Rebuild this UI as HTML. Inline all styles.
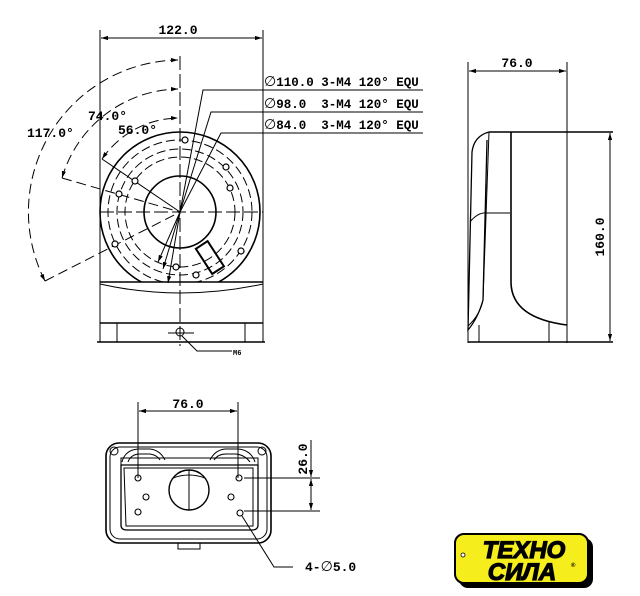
<!DOCTYPE html>
<html><head><meta charset="utf-8"><style>
html,body{margin:0;padding:0;background:#fff;width:640px;height:596px;overflow:hidden}
svg{display:block}
text{font-family:"Liberation Mono",monospace;font-weight:bold;fill:#000}
.d{font-family:"DejaVu Sans",sans-serif;font-size:14px;font-weight:normal}
</style></head><body>
<svg width="640" height="596" viewBox="0 0 640 596" xmlns="http://www.w3.org/2000/svg">
<defs>
<marker id="a" viewBox="0 0 10 10" refX="10" refY="5" markerWidth="7" markerHeight="7" orient="auto-start-reverse"><path d="M0,2 L10,5 L0,8 z" fill="#000"/></marker>
<clipPath id="c"><rect x="0" y="0" width="640" height="282"/></clipPath>
</defs>
<g stroke="#000" fill="none" stroke-width="1">
<!-- FRONT VIEW -->
<line x1="100" y1="30" x2="100" y2="342"/>
<line x1="263" y1="30" x2="263" y2="342"/>
<line x1="101" y1="38" x2="262" y2="38" marker-start="url(#a)" marker-end="url(#a)"/>
<g clip-path="url(#c)">
<circle cx="180" cy="212" r="80" stroke-width="1.6"/>
<circle cx="180" cy="212" r="72" stroke-dasharray="9,4"/>
</g>
<circle cx="180" cy="212" r="63" stroke-dasharray="9,4"/>
<circle cx="180" cy="212" r="55" stroke-dasharray="9,4"/>
<circle cx="180" cy="212" r="36" stroke-width="1.6" fill="#fff"/>
<line x1="180" y1="56" x2="180" y2="346" stroke-dasharray="14,4"/>
<line x1="100" y1="212" x2="263" y2="212" stroke-dasharray="14,4"/>
<path d="M45,281 A152,152 0 0 1 178,60" stroke-dasharray="10,5" marker-start="url(#a)" marker-end="url(#a)"/>
<path d="M62,178 A123,123 0 0 1 178,89" stroke-dasharray="10,5" marker-start="url(#a)" marker-end="url(#a)"/>
<path d="M102,159 A94,94 0 0 1 178,118" stroke-dasharray="10,5" marker-start="url(#a)" marker-end="url(#a)"/>
<line x1="45" y1="281" x2="180" y2="212" stroke-dasharray="10,5"/>
<line x1="62" y1="178" x2="180" y2="212" stroke-dasharray="10,5"/>
<line x1="102" y1="159" x2="180" y2="212"/>
<line x1="180" y1="212" x2="158" y2="262" marker-end="url(#a)"/>
<line x1="180" y1="212" x2="163" y2="269" marker-end="url(#a)"/>
<line x1="180" y1="212" x2="168" y2="283" marker-end="url(#a)"/>
<polyline points="180,212 203,90 423,90"/>
<polyline points="180,212 211,112 423,112"/>
<polyline points="180,212 221,133 423,133"/>
<g stroke-width="1.2" fill="#fff">
<circle cx="185" cy="140" r="3"/><circle cx="226" cy="167" r="3"/><circle cx="230" cy="188" r="3"/>
<circle cx="135" cy="181" r="3"/><circle cx="119" cy="194" r="3"/><circle cx="115" cy="244" r="3"/>
<circle cx="176" cy="267" r="3"/><circle cx="196" cy="275" r="3"/><circle cx="241" cy="251" r="3"/>
</g>
<g transform="translate(205,250) rotate(-33)"><rect x="-7" y="-6" width="14" height="30" stroke-width="2"/></g>
<line x1="100" y1="282" x2="263" y2="282" stroke-width="1.6"/>
<path d="M100,284 Q180,302 263,284"/>
<line x1="100" y1="323" x2="263" y2="323" stroke-width="1.6"/>
<line x1="97" y1="342" x2="265" y2="342" stroke-width="1.4"/>
<line x1="117" y1="323" x2="117" y2="342"/><line x1="245" y1="323" x2="245" y2="342"/>
<circle cx="180" cy="332" r="4"/>
<line x1="168" y1="333" x2="194" y2="333"/>
<polyline points="182,336 197,351 232,351"/>
<!-- SIDE VIEW -->
<line x1="468" y1="62" x2="468" y2="343"/>
<line x1="567" y1="62" x2="567" y2="343"/>
<line x1="469" y1="71" x2="566" y2="71" marker-start="url(#a)" marker-end="url(#a)"/>
<line x1="489" y1="132" x2="613" y2="132" stroke-width="1.4"/>
<line x1="468" y1="342" x2="613" y2="342" stroke-width="1.4"/>
<line x1="610" y1="133" x2="610" y2="341" marker-start="url(#a)" marker-end="url(#a)"/>
<path d="M489,132 Q474,136 472,152 L468,330 Q478,318 483,300 L487,140" stroke-width="1.3"/>
<path d="M489,132 L483,300 Q480,315 468,326"/>
<line x1="511" y1="132" x2="511" y2="283" stroke-width="1.6"/>
<path d="M511,283 Q512,318 567,325" stroke-width="1.6"/>
<path d="M470,222 Q478,212 487,213 L510,213"/>
<line x1="479" y1="325" x2="479" y2="342"/><line x1="549" y1="322" x2="549" y2="342"/>
<!-- BOTTOM VIEW -->
<line x1="138" y1="402" x2="138" y2="478"/><line x1="238" y1="402" x2="238" y2="478"/>
<line x1="139" y1="411" x2="237" y2="411" marker-start="url(#a)" marker-end="url(#a)"/>
<rect x="106" y="443" width="165" height="100" rx="13" stroke-width="1.6"/>
<rect x="110" y="447" width="157" height="92" rx="10"/>
<path d="M121,465 L121,525 Q121,530 127,530 L252,530 Q258,530 258,525 L258,465 Z" stroke-width="1.3"/>
<path d="M124,468 L253,468 L253,526 L126,526 Z"/>
<path d="M121,465 L121,458 L258,458 L258,465"/>
<path d="M122,462 Q125,450 138,449 L150,449 Q160,450 165,460"/>
<path d="M128,462 Q131,454 140,454 L150,454 Q157,455 160,460"/>
<path d="M210,460 Q215,450 225,449 L238,449 Q251,450 255,462"/>
<path d="M214,460 Q218,454 226,454 L236,454 Q245,455 250,462"/>
<circle cx="114" cy="451" r="4"/><circle cx="262" cy="451" r="4"/>
<rect x="178" y="543" width="22" height="6"/>
<circle cx="189" cy="490" r="20" stroke-width="1.4"/>
<line x1="189" y1="470" x2="189" y2="510"/><path d="M173,478 Q189,472 205,478"/>
<g stroke-width="1.1"><circle cx="138" cy="478" r="3"/><circle cx="146" cy="497" r="3"/><circle cx="138" cy="512" r="3"/>
<circle cx="239" cy="478" r="3"/><circle cx="231" cy="497" r="3"/><circle cx="240" cy="513" r="3"/></g>
<line x1="244" y1="478" x2="320" y2="478"/><line x1="244" y1="511" x2="320" y2="511"/>
<line x1="311" y1="440" x2="311" y2="477" marker-end="url(#a)"/>
<line x1="311" y1="479" x2="311" y2="510" marker-start="url(#a)" marker-end="url(#a)"/>
<polyline points="242,516 274,567 293,567"/>
</g>
<text x="178" y="34" font-size="13" text-anchor="middle">122.0</text>
<text x="27" y="137" font-size="13">117.0°</text>
<text x="88" y="120" font-size="13">74.0°</text>
<text x="118" y="134" font-size="13">56.0°</text>
<text x="264" y="86" font-size="12.5"><tspan class="d">∅</tspan>110.0 3-M4 120° EQU</text>
<text x="264" y="108" font-size="12.5"><tspan class="d">∅</tspan>98.0&#160;&#160;3-M4 120° EQU</text>
<text x="264" y="129" font-size="12.5"><tspan class="d">∅</tspan>84.0&#160;&#160;3-M4 120° EQU</text>
<text x="233" y="355" font-size="7">M6</text>
<text x="517" y="67" font-size="13" text-anchor="middle">76.0</text>
<text transform="translate(604,237) rotate(-90)" font-size="13" text-anchor="middle">160.0</text>
<text x="188" y="408" font-size="13" text-anchor="middle">76.0</text>
<text transform="translate(307,459) rotate(-90)" font-size="13" text-anchor="middle">26.0</text>
<text x="305" y="571" font-size="13">4-<tspan class="d">∅</tspan>5.0</text>
<!-- LOGO -->
<rect x="459" y="538" width="134" height="50" rx="9" fill="#000"/>
<rect x="455" y="534" width="133" height="49" rx="9" fill="#f6ee1c" stroke="#000" stroke-width="2"/>
<circle cx="463" cy="555" r="2" fill="#fff" stroke="#000" stroke-width="0.8"/>
<text x="524" y="558" font-size="24" font-style="italic" text-anchor="middle" stroke="#000" stroke-width="1.2" style="font-family:'Liberation Sans',sans-serif;font-weight:900">ТЕХНО</text>
<text x="522" y="580" font-size="24" font-style="italic" text-anchor="middle" stroke="#000" stroke-width="1.2" style="font-family:'Liberation Sans',sans-serif;font-weight:900">СИЛА</text>
<text x="571" y="567" font-size="6" style="font-family:'Liberation Sans',sans-serif">®</text>
</svg>
</body></html>
